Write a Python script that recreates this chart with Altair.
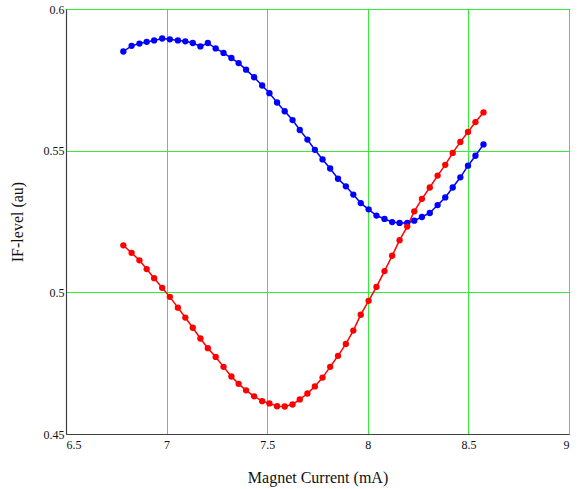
import altair as alt
import pandas as pd

# Magnet current sweep (mA), shared by both traces
current = [6.785, 6.826, 6.865, 6.901, 6.938, 6.978, 7.016, 7.056, 7.093, 7.130,
           7.168, 7.205, 7.244, 7.283, 7.322, 7.358, 7.395, 7.435, 7.475, 7.511,
           7.549, 7.587, 7.626, 7.662, 7.700, 7.737, 7.775, 7.813, 7.852, 7.891,
           7.928, 7.965, 8.004, 8.043, 8.083, 8.121, 8.158, 8.196, 8.231, 8.269,
           8.308, 8.347, 8.385, 8.422, 8.460, 8.498, 8.535, 8.575]

# IF level (au), blue trace
if_blue = [0.5850, 0.5870, 0.5878, 0.5884, 0.5889, 0.5896, 0.5893, 0.5889, 0.5886, 0.5880,
           0.5868, 0.5880, 0.5861, 0.5845, 0.5827, 0.5809, 0.5786, 0.5759, 0.5730, 0.5703,
           0.5670, 0.5639, 0.5608, 0.5573, 0.5539, 0.5503, 0.5469, 0.5437, 0.5401, 0.5374,
           0.5345, 0.5315, 0.5293, 0.5271, 0.5259, 0.5248, 0.5245, 0.5245, 0.5253, 0.5266,
           0.5280, 0.5308, 0.5335, 0.5370, 0.5406, 0.5447, 0.5482, 0.5522]

# IF level (au), red trace
if_red = [0.5166, 0.5139, 0.5113, 0.5082, 0.5050, 0.5016, 0.4984, 0.4946, 0.4911, 0.4875,
          0.4837, 0.4803, 0.4772, 0.4737, 0.4703, 0.4677, 0.4654, 0.4633, 0.4616, 0.4608,
          0.4598, 0.4597, 0.4604, 0.4622, 0.4643, 0.4668, 0.4699, 0.4737, 0.4776, 0.4818,
          0.4865, 0.4921, 0.4970, 0.5019, 0.5075, 0.5129, 0.5184, 0.5232, 0.5286, 0.5330,
          0.5370, 0.5412, 0.5450, 0.5492, 0.5531, 0.5566, 0.5601, 0.5635]

x_ticks = [6.5, 7, 7.5, 8, 8.5, 9]
y_ticks = [0.45, 0.5, 0.55, 0.6]

df = pd.concat([
    pd.DataFrame({"current": current, "level": if_blue, "trace": "blue"}),
    pd.DataFrame({"current": current, "level": if_red, "trace": "red"}),
])

FONT = "Liberation Serif"
GRID = "#33ee33"

x_enc = alt.X(
    "current:Q",
    scale=alt.Scale(domain=[6.5, 9], nice=False, zero=False),
    axis=alt.Axis(values=x_ticks, format="~g", title="Magnet Current (mA)",
                  grid=True, gridColor=GRID, gridWidth=1, gridOpacity=1,
                  ticks=False, labelPadding=5, labelFontSize=12,
                  labelFont=FONT, labelColor="#111",
                  titleFont=FONT, titleFontSize=16, titleFontWeight="normal",
                  titleColor="#111", titlePadding=19,
                  domainColor="#404040", domainWidth=1.2),
)
y_enc = alt.Y(
    "level:Q",
    scale=alt.Scale(domain=[0.45, 0.6], nice=False, zero=False),
    axis=alt.Axis(values=y_ticks, format="~g", title="IF-level (au)",
                  grid=True, gridColor=GRID, gridWidth=1, gridOpacity=1,
                  ticks=False, labelPadding=2, labelFontSize=12,
                  labelFont=FONT, labelColor="#111",
                  titleFont=FONT, titleFontSize=16, titleFontWeight="normal",
                  titleColor="#111", titlePadding=18,
                  domainColor="#404040", domainWidth=1.2),
)
color = alt.Color("trace:N", scale=alt.Scale(domain=["blue", "red"],
                                             range=["#0000ff", "#ff0000"]),
                  legend=None)

base = alt.Chart(df).encode(x=x_enc, y=y_enc, color=color, detail="trace:N")
lines = base.mark_line(strokeWidth=1.5)
points = base.mark_point(filled=True, size=40, opacity=1, shape="circle")

chart = (
    alt.layer(lines, points)
    .properties(width=503, height=425,
                padding={"left": 66, "top": 9, "right": 11, "bottom": 55},
                autosize=alt.AutoSizeParams(type="none"),
                background="white")
    .configure_view(stroke="#404040", strokeWidth=1)
)

chart.save("out.html", embed_options={"renderer": "svg", "actions": False})
